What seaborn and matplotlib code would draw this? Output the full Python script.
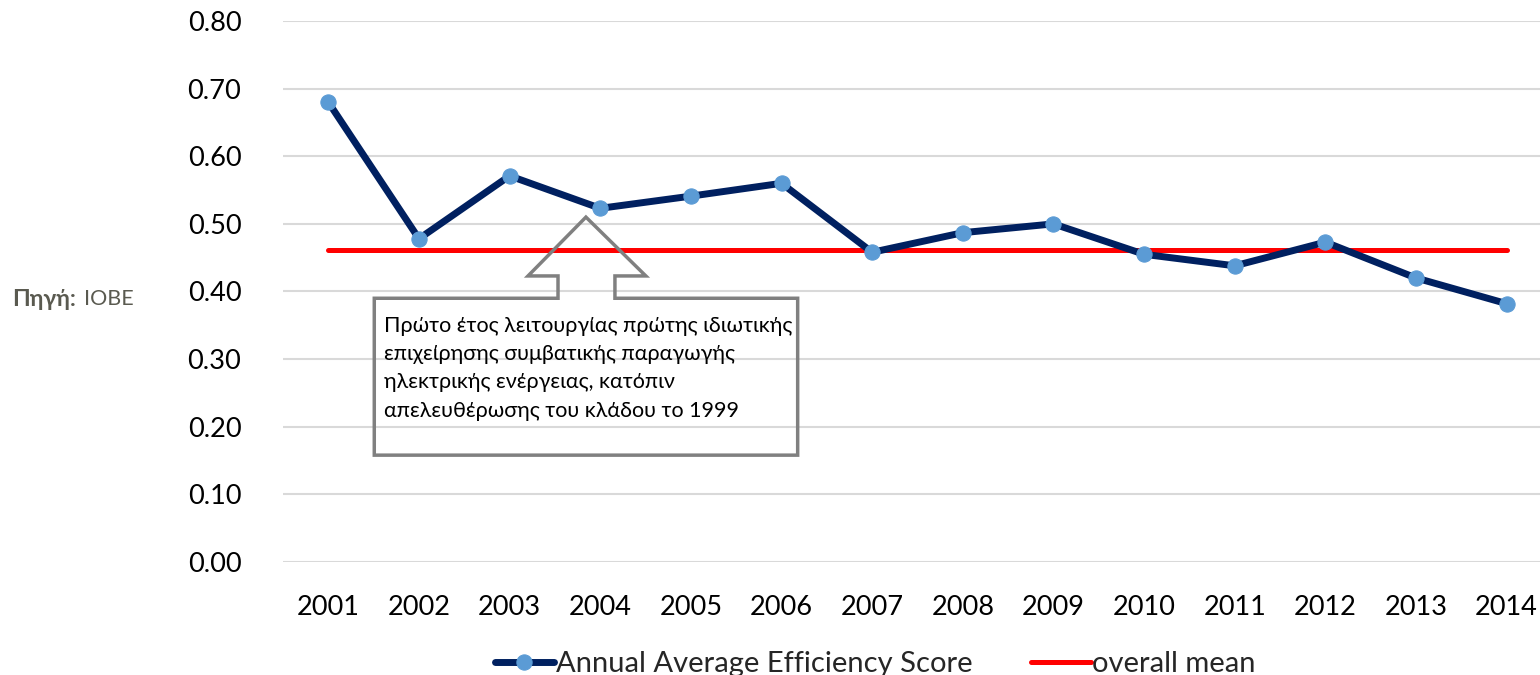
import pandas as pd
import matplotlib.pyplot as plt
import seaborn as sns
from matplotlib.patches import Polygon

# values
years = ["2001", "2002", "2003", "2004", "2005", "2006", "2007",
         "2008", "2009", "2010", "2011", "2012", "2013", "2014"]
efficiency = [0.680, 0.478, 0.571, 0.523, 0.541, 0.560, 0.458,
              0.487, 0.500, 0.455, 0.438, 0.473, 0.420, 0.382]
overall_mean = 0.461
y_ticks = [0.0, 0.1, 0.2, 0.3, 0.4, 0.5, 0.6, 0.7, 0.8]

series_label = "Annual Average Efficiency Score"
mean_label = "overall mean"
note_text = ("Πρώτο έτος λειτουργίας πρώτης ιδιωτικής\n"
             "επιχείρησης συμβατικής παραγωγής\n"
             "ηλεκτρικής ενέργειας, κατόπιν\n"
             "απελευθέρωσης του κλάδου το 1999")

sns.set_theme(style="white")
plt.rcParams["font.family"] = ["Lato", "Open Sans", "DejaVu Sans"]

df = pd.DataFrame({"year": years, "score": efficiency})
df_mean = pd.DataFrame({"year": years, "score": [overall_mean] * len(years)})

fig = plt.figure(figsize=(15.4, 6.75), dpi=100)
ax = fig.add_axes([283 / 1540, 0.1674, (1552 - 283) / 1540, 0.8015])

sns.lineplot(data=df, x="year", y="score", ax=ax, color="#002060",
             linewidth=5, marker="o", markersize=11,
             markerfacecolor="#5B9BD5", markeredgecolor="#5B9BD5",
             label=series_label, zorder=4)
sns.lineplot(data=df_mean, x="year", y="score", ax=ax, color="#FF0000",
             linewidth=3.6, label=mean_label, zorder=3)

ax.set_ylim(0, 0.8)
ax.set_xlim(-0.5, len(years) - 0.5)
ax.set_yticks(y_ticks)
ax.set_yticklabels([f"{v:.2f}" for v in y_ticks])
ax.yaxis.grid(True, color="#D9D9D9", linewidth=1.5)
ax.set_axisbelow(True)
for s in ax.spines.values():
    s.set_visible(False)
ax.tick_params(axis="both", length=0, labelsize=19.5, colors="black")
ax.tick_params(axis="y", pad=30)
ax.tick_params(axis="x", pad=24)
ax.set_xlabel("")
ax.set_ylabel("")

# callout box with an arrow pointing at 2004
callout = [(2.842, 0.510), (3.503, 0.423), (3.162, 0.423), (3.162, 0.390),
           (5.178, 0.390), (5.178, 0.158), (0.507, 0.158), (0.507, 0.390),
           (2.534, 0.390), (2.534, 0.423), (2.203, 0.423)]
ax.add_patch(Polygon(callout, closed=True, fill=False, edgecolor="#808080",
                     linewidth=2.5, zorder=5, clip_on=False))
ax.text(0.615, 0.364, note_text, fontsize=15.5, va="top", ha="left",
        linespacing=1.52, color="black", zorder=6)

fig.text(12 / 1540, 1 - 299 / 675, "Πηγή:", fontsize=16.5, fontweight="bold",
         color="#5A5A50", va="center", ha="left")
fig.text(84 / 1540, 1 - 299 / 675, "IOBE", fontsize=15.5,
         color="#5A5A50", va="center", ha="left")

ax.get_legend().remove()
handles, labels = ax.get_legend_handles_labels()
fig.legend(handles, labels, loc="center", bbox_to_anchor=(875 / 1540, 1 - 664 / 675),
           ncol=2, frameon=False, fontsize=21, handlelength=2.05,
           handletextpad=0.05, columnspacing=2.0)

fig.savefig("out.png", dpi=100)
